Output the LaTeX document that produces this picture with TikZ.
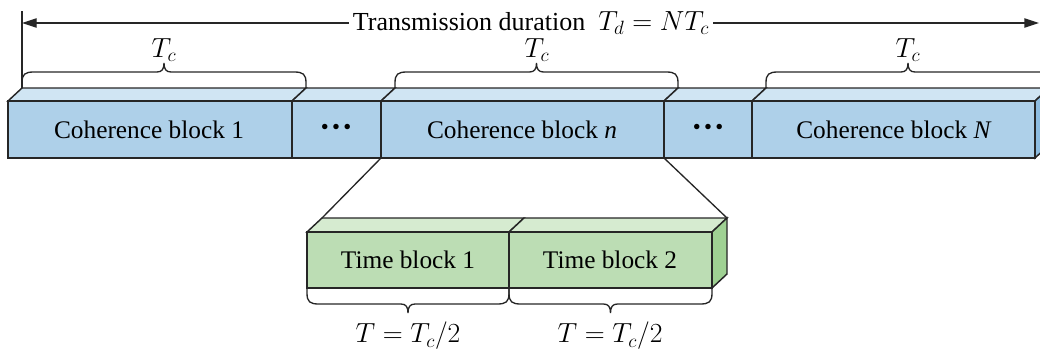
\documentclass[tikz,border=0pt]{standalone}
\usepackage{fontspec}
\setmainfont{Liberation Serif}
\usetikzlibrary{arrows.meta}
\definecolor{bfront}{HTML}{AED0E9}
\definecolor{btop}{HTML}{D0E5F3}
\definecolor{bside}{HTML}{8DBCE0}
\definecolor{gfront}{HTML}{BCDDB4}
\definecolor{gtop}{HTML}{D6EBD0}
\definecolor{gside}{HTML}{9FD193}
\newcommand\mybrace[4]{% x1, x2, base y, direction (-1 up, 1 down)
  \draw[brc] (#1,#3) -- (#1,{#3+(#4)*5})
    .. controls (#1,{#3+(#4)*14}) and ({#1+3},{#3+(#4)*16}) .. ({#1+12},{#3+(#4)*16})
    -- ({(#1+#2)/2-7},{#3+(#4)*16})
    .. controls ({(#1+#2)/2-2},{#3+(#4)*16}) and ({(#1+#2)/2},{#3+(#4)*19}) .. ({(#1+#2)/2},{#3+(#4)*25})
    .. controls ({(#1+#2)/2},{#3+(#4)*19}) and ({(#1+#2)/2+2},{#3+(#4)*16}) .. ({(#1+#2)/2+7},{#3+(#4)*16})
    -- ({#2-12},{#3+(#4)*16})
    .. controls ({#2-3},{#3+(#4)*16}) and (#2,{#3+(#4)*14}) .. (#2,{#3+(#4)*5}) -- (#2,#3);}
\begin{document}
\begin{tikzpicture}[x=0.75pt,y=-0.75pt,
  edge/.style={draw=black!85, line width=1.1pt, line join=miter},
  brc/.style={draw=black!85, line width=1pt},
  lbl/.style={font=\fontsize{19}{23}\selectfont, inner sep=0pt},
  mlbl/.style={font=\fontsize{20}{24}\selectfont, inner sep=0pt},
  dotsl/.style={font=\fontsize{17}{20}\selectfont, inner sep=0pt},
  arr/.style={draw=black!85, line width=1pt}]
\useasboundingbox (0,0) rectangle (1040,351);
% ---- top row ----
\foreach \a/\b in {8/292,292/381,381/664,664/752,752/1035}{
  \filldraw[edge, fill=btop] (\a,101) -- (\a+14,88) -- (\b+14,88) -- (\b,101) -- cycle;}
\filldraw[edge, fill=bside] (1035,101) -- (1049,88) -- (1049,145) -- (1035,158) -- cycle;
\foreach \a/\b in {8/292,292/381,381/664,664/752,752/1035}{
  \filldraw[edge, fill=bfront] (\a,101) rectangle (\b,158);}
\node[lbl] (cb1) at (149,130) {Coherence block 1};
\node[dotsl] (d1) at (336,129) {\textbullet\hspace{2.5pt}\textbullet\hspace{2.5pt}\textbullet};
\node[lbl] (cbn) at (522,130) {Coherence block \textit{n}};
\node[dotsl] (d2) at (708,129) {\textbullet\hspace{2.5pt}\textbullet\hspace{2.5pt}\textbullet};
\node[lbl] (cbN) at (894,130) {Coherence block \textit{N}};
\coordinate (nl) at (381,158);
\coordinate (nr) at (664,158);
% ---- bottom row ----
\foreach \a/\b in {307/509,509/712}{
  \filldraw[edge, fill=gtop] (\a,232) -- (\a+15,218) -- (\b+15,218) -- (\b,232) -- cycle;}
\filldraw[edge, fill=gside] (712,232) -- (727,218) -- (727,274) -- (712,288) -- cycle;
\foreach \a/\b in {307/509,509/712}{
  \filldraw[edge, fill=gfront] (\a,232) rectangle (\b,288);}
\node[lbl] (tb1) at (408,260) {Time block 1};
\node[lbl] (tb2) at (610,260) {Time block 2};
\coordinate (tl) at (322,218);
\coordinate (tr) at (727,218);
\draw[arr] (nl) -- (tl);
\draw[arr] (nr) -- (tr);
% ---- transmission duration ----
\coordinate (vb) at (22,88);
\coordinate (vt) at (22,11);
\coordinate (al) at (22,23);
\coordinate (ar) at (1039,23);
\draw[arr] (vt) -- (vb);
\node[inner sep=0pt, inner xsep=3pt, font=\fontsize{19.5}{24}\selectfont] (td) at (531,23) {Transmission duration \ {\fontsize{20}{24}\selectfont$T_d = NT_c$}};
\draw[arr, -{Triangle[length=11pt,width=7pt]}] (td.west) -- (al);
\draw[arr, -{Triangle[length=11pt,width=7pt]}] (td.east) -- (ar);
% ---- braces ----
\mybrace{22}{306}{88}{-1}
\mybrace{395}{678}{88}{-1}
\mybrace{766}{1050}{88}{-1}
\node[mlbl] (tc1) at (164,50) {$T_c$};
\node[mlbl] (tc2) at (537,50) {$T_c$};
\node[mlbl] (tc3) at (908,50) {$T_c$};
\mybrace{307}{509}{288}{1}
\mybrace{509}{712}{288}{1}
\node[mlbl] (h1) at (408,336) {$T = T_c/2$};
\node[mlbl] (h2) at (610,336) {$T = T_c/2$};
\end{tikzpicture}
\end{document}
